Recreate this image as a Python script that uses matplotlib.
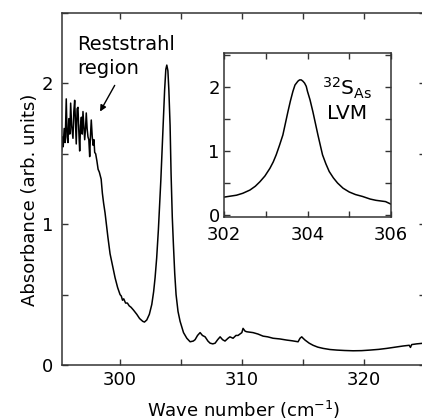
import numpy as np
import matplotlib
matplotlib.use("Agg")
import matplotlib.pyplot as plt
from matplotlib.ticker import MultipleLocator

plt.rcParams.update({
    "font.family": "DejaVu Sans",
    "mathtext.fontset": "dejavusans",
    "axes.linewidth": 1.1,
    "axes.edgecolor": "#333333",
    "xtick.color": "#333333",
    "ytick.color": "#333333",
    "xtick.labelcolor": "black",
    "ytick.labelcolor": "black",
})

# -----------------------------
# Main spectrum
# -----------------------------
wn = [
    295.2, 295.27, 295.34, 295.42, 295.5, 295.59, 295.66, 295.73, 295.8, 295.88,
    295.95, 296.03, 296.14, 296.21, 296.28, 296.35, 296.41, 296.48, 296.55, 296.62,
    296.69, 296.76, 296.83, 296.9, 296.96, 297.03, 297.1, 297.17, 297.23, 297.3,
    297.37, 297.44, 297.51, 297.57, 297.64, 297.72, 297.8, 297.86, 297.92, 298.0,
    298.1, 298.2, 298.3, 298.45, 298.55, 298.65, 298.77, 299.0, 299.18, 299.4,
    299.59, 299.8, 300.0, 300.1, 300.2, 300.3, 300.45, 300.6, 300.75, 300.9,
    301.1, 301.37, 301.6, 301.86, 302.0, 302.19, 302.4, 302.6, 302.75, 302.87,
    303.0, 303.14, 303.34, 303.5, 303.65, 303.75, 303.83, 303.92, 304.0, 304.1,
    304.18, 304.28, 304.37, 304.48, 304.59, 304.75, 304.92, 305.2, 305.47, 305.74,
    306.0, 306.15, 306.35, 306.56, 306.75, 306.97, 307.2, 307.38, 307.6, 307.79,
    308.0, 308.2, 308.4, 308.6, 308.85, 309.0, 309.26, 309.5, 309.67, 309.9,
    309.98, 310.08, 310.16, 310.25, 310.39, 310.9, 311.3, 311.72, 312.1, 312.54,
    313.1, 313.66, 314.1, 314.59, 314.75, 314.89, 315.0, 315.16, 315.5, 315.82,
    316.2, 316.64, 317.2, 317.76, 318.4, 319.1, 319.8, 320.49, 321.2, 321.86,
    322.5, 323.2, 323.7, 323.8, 323.9, 324.3, 324.73, 325.0,
]
absorb = [
    1.52, 1.62, 1.55, 1.68, 1.58, 1.89, 1.62, 1.58, 1.75, 1.64,
    1.86, 1.70, 1.61, 1.80, 1.88, 1.72, 1.57, 1.82, 1.83, 1.66,
    1.52, 1.70, 1.76, 1.64, 1.80, 1.70, 1.60, 1.68, 1.79, 1.68,
    1.62, 1.60, 1.48, 1.62, 1.74, 1.62, 1.56, 1.60, 1.51, 1.50,
    1.45, 1.39, 1.37, 1.32, 1.22, 1.15, 1.08, 0.91, 0.79, 0.70,
    0.62, 0.55, 0.50, 0.49, 0.46, 0.47, 0.44, 0.44, 0.42, 0.41,
    0.39, 0.36, 0.33, 0.31, 0.305, 0.32, 0.36, 0.43, 0.52, 0.62,
    0.76, 0.96, 1.31, 1.65, 1.95, 2.10, 2.13, 2.09, 1.95, 1.70,
    1.36, 1.05, 0.86, 0.65, 0.50, 0.38, 0.31, 0.23, 0.19, 0.165,
    0.17, 0.18, 0.21, 0.23, 0.21, 0.20, 0.17, 0.155, 0.15, 0.155,
    0.18, 0.20, 0.18, 0.17, 0.19, 0.20, 0.19, 0.21, 0.21, 0.225,
    0.23, 0.26, 0.25, 0.24, 0.236, 0.23, 0.22, 0.205, 0.20, 0.19,
    0.185, 0.177, 0.172, 0.165, 0.19, 0.20, 0.19, 0.177, 0.155, 0.14,
    0.127, 0.118, 0.11, 0.106, 0.103, 0.101, 0.102, 0.106, 0.111, 0.118,
    0.126, 0.135, 0.14, 0.125, 0.145, 0.15, 0.154, 0.155,
]

# -----------------------------
# Inset: LVM peak close-up
# -----------------------------
wn_lvm = [
    302.0, 302.15, 302.3, 302.45, 302.62, 302.75, 302.86, 302.98, 303.1, 303.18,
    303.25, 303.33, 303.41, 303.47, 303.53, 303.59, 303.65, 303.7, 303.77, 303.81,
    303.85, 303.89, 303.93, 303.97, 304.0, 304.06, 304.13, 304.19, 304.25, 304.31,
    304.36, 304.44, 304.52, 304.62, 304.72, 304.85, 305.0, 305.15, 305.32, 305.5,
    305.64, 305.87, 306.0,
]
abs_lvm = [
    0.28, 0.295, 0.31, 0.34, 0.39, 0.45, 0.52, 0.61, 0.73, 0.83,
    0.94, 1.09, 1.25, 1.43, 1.61, 1.78, 1.93, 2.03, 2.09, 2.11,
    2.11, 2.09, 2.06, 2.01, 1.93, 1.80, 1.61, 1.43, 1.25, 1.08,
    0.94, 0.80, 0.68, 0.58, 0.50, 0.42, 0.36, 0.32, 0.29, 0.25,
    0.23, 0.21, 0.17,
]

W, H = 422, 420
fig = plt.figure(figsize=(W / 100, H / 100), dpi=100)

# main axes (pixel box -> figure fraction)
x0, x1, ytop, ybot = 61.5, 425.1, 13, 365
ax = fig.add_axes([x0 / W, 1 - ybot / H, (x1 - x0) / W, (ybot - ytop) / H])
ax.plot(wn, absorb, color="black", lw=1.1)
ax.set_xlim(295.2, 325)
ax.set_ylim(0, 2.5)
ax.xaxis.set_major_locator(MultipleLocator(10))
ax.xaxis.set_minor_locator(MultipleLocator(5))
ax.yaxis.set_major_locator(MultipleLocator(1))
ax.yaxis.set_minor_locator(MultipleLocator(0.5))
ax.tick_params(which="both", direction="in", top=True, right=True,
               length=4.3, width=1.0, labelsize=13)
ax.tick_params(axis="x", pad=4.5)
ax.tick_params(axis="y", pad=6.0)
ax.set_xlabel("Wave number (cm$^{-1}$)", fontsize=13, va="top")
ax.xaxis.set_label_coords(0.5, -0.097)
ax.set_ylabel("Absorbance (arb. units)", fontsize=13)
ax.yaxis.set_label_coords(-0.063, 0.469)

ax.text(296.47, 2.239, "Reststrahl", fontsize=14, ha="left", va="baseline")
ax.text(296.47, 2.07, "region", fontsize=14, ha="left", va="baseline")
ax.annotate("", xy=(298.36, 1.80), xytext=(299.56, 1.986),
            arrowprops=dict(arrowstyle="-|>", color="black", lw=1.0,
                            mutation_scale=9, shrinkA=0, shrinkB=0))

# inset axes
i0, i1, itop, ibot = 224, 391, 53, 217.3
ins = fig.add_axes([i0 / W, 1 - ibot / H, (i1 - i0) / W, (ibot - itop) / H])
ins.plot(wn_lvm, abs_lvm, color="black", lw=1.1)
ins.set_xlim(302, 306)
ins.set_ylim(-0.035, 2.53)
ins.xaxis.set_major_locator(MultipleLocator(2))
ins.xaxis.set_minor_locator(MultipleLocator(1))
ins.yaxis.set_major_locator(MultipleLocator(1))
ins.yaxis.set_minor_locator(MultipleLocator(0.5))
ins.tick_params(which="both", direction="in", top=True, right=True,
                length=4.3, width=1.0, labelsize=13)
ins.tick_params(axis="x", pad=6.2)
ins.tick_params(axis="y", pad=3.0)
ins.text(0.737, 0.744, r"$^{32}$S$_{\mathrm{As}}$", transform=ins.transAxes,
         fontsize=14.5, ha="center", va="baseline")
ins.text(0.737, 0.598, "LVM", transform=ins.transAxes,
         fontsize=14.5, ha="center", va="baseline")

fig.savefig("out.png", dpi=100)
